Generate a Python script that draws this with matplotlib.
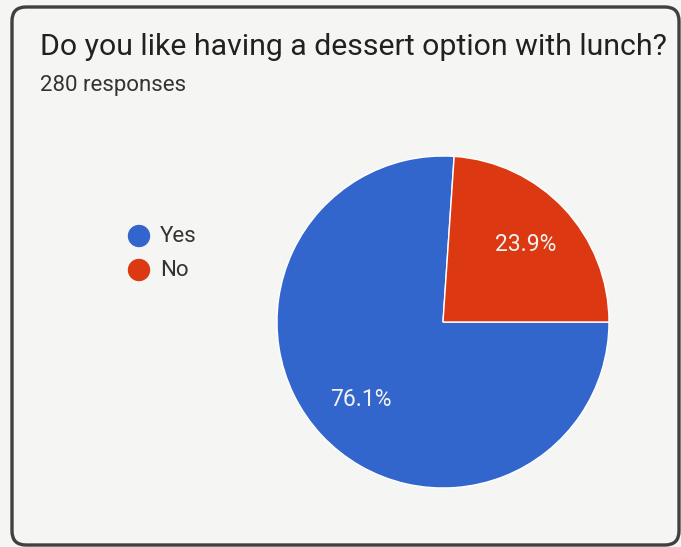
import matplotlib.pyplot as plt
from matplotlib.patches import FancyBboxPatch, Circle

labels = ["Yes", "No"]
counts = [213, 67]
colors = ["#3366cc", "#dc3912"]
title = "Do you like having a dessert option with lunch?"
subtitle = "280 responses"

W, H = 681, 547
bg = "#f5f5f4"
plt.rcParams['font.family'] = ['Roboto', 'DejaVu Sans']

fig = plt.figure(figsize=(W / 100, H / 100), dpi=100, facecolor=bg)
ax = fig.add_axes([0, 0, 1, 1])

# card border (y measured from top of picture)
card = FancyBboxPatch((24, H - 533), 643, 514,
                      boxstyle="round,pad=12,rounding_size=14",
                      facecolor=bg, edgecolor="#404040", linewidth=2.4)
ax.add_patch(card)

ax.text(40, H - 55, title, fontsize=21.8, color="#212121", va="baseline")
ax.text(40, H - 91, subtitle, fontsize=16, color="#333333", va="baseline")

# pie, "No" slice sits between 3 o'clock and 12 o'clock
start = 360 * counts[1] / sum(counts)
wedges, texts, autotexts = ax.pie(
    counts, colors=colors, center=(443, H - 322), radius=166,
    startangle=start, counterclock=True, autopct="%.1f%%", pctdistance=0.68,
    wedgeprops=dict(edgecolor="white", linewidth=1),
    textprops=dict(color="#f2f2f2", fontsize=16.5), frame=True)
ax.set_xlim(0, W)
ax.set_ylim(0, H)
ax.set_aspect('equal')
ax.axis('off')

# legend
for i, (lab, c) in enumerate(zip(labels, colors)):
    y = H - (236 + 34 * i)
    ax.add_patch(Circle((139, y), 10.5, color=c))
    ax.text(160, y, lab, fontsize=16, color="#333333", va="center")

fig.savefig("out.png", dpi=100, facecolor=bg)
